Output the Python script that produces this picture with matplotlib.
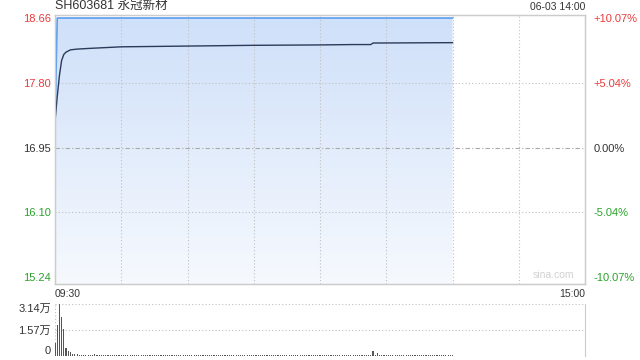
import numpy as np
import matplotlib
matplotlib.use("Agg")
import matplotlib.pyplot as plt
from matplotlib.colors import LinearSegmentedColormap

plt.rcParams['font.family'] = ['Liberation Sans', 'Noto Sans CJK SC', 'DejaVu Sans']

# trading minute from 09:30 (0) to 15:00 (240); data ends at 14:00 (180)
price_min = [0, 1, 180]
price_val = [17.29, 18.66, 18.66]

avg_min = [0, 1, 2, 3, 4, 5, 7, 10, 16, 30, 60, 90, 120, 135, 143, 144, 180]
avg_val = [17.29, 17.62, 17.90, 18.10, 18.18, 18.21, 18.24, 18.25, 18.26,
           18.28, 18.29, 18.30, 18.305, 18.31, 18.31, 18.33, 18.335]

# volume in 万 shares, one per minute
vol = ([0.78, 1.85, 3.14, 2.37, 1.62, 0.50, 0.30, 0.25, 0.15, 0.12,
        0.10, 0.08, 0.09, 0.07, 0.06, 0.08, 0.05, 0.06, 0.10, 0.05]
       + [0.05, 0.04, 0.06, 0.05, 0.04, 0.07, 0.05, 0.04, 0.05, 0.06] * 12
       + [0.05, 0.04, 0.06, 0.05, 0.30, 0.06, 0.18, 0.05, 0.04, 0.05]
       + [0.04, 0.05, 0.06, 0.04, 0.05, 0.05, 0.04, 0.06, 0.05, 0.04] * 3
       + [0.05])

prev_close = 16.95
left_ticks = [18.66, 17.80, 16.95, 16.10, 15.24]
left_labels = ["18.66", "17.80", "16.95", "16.10", "15.24"]
right_labels = ["+10.07%", "+5.04%", "0.00%", "-5.04%", "-10.07%"]
vol_ticks = [3.14, 1.57, 0]
vol_labels = ["3.14万", "1.57万", "0"]

RED = "#ec3a3a"; GREEN = "#2aa32a"; INK = "#333333"; EDGE = "#cccccc"

fig = plt.figure(figsize=(6.4, 3.6), dpi=100)
ax = fig.add_axes([55/640, 1-284/360, 530/640, 269/360])
axv = fig.add_axes([55/640, 1-356/360, 530/640, 52/360])

# ---- price panel ----
ylo, yhi = 15.15, 18.70
ax.set_xlim(0, 240); ax.set_ylim(ylo, yhi)
for m in range(30, 240, 30):
    ax.axvline(m, color="#c0c0c0", lw=0.8, ls=(0, (1, 2)), zorder=3)
for t in (17.80, 16.10):
    ax.axhline(t, color="#c0c0c0", lw=0.8, ls=(0, (1, 2)), zorder=3)
ax.axhline(prev_close, color="#aaaaaa", lw=0.8, ls=(0, (4, 2, 1, 2)), zorder=3)

cmap = LinearSegmentedColormap.from_list("fill", ["#f6f9fe", "#cfe0f9"])
grad = np.linspace(0, 1, 256).reshape(-1, 1)
im = ax.imshow(grad, cmap=cmap, aspect="auto", origin="lower",
               extent=[0, price_min[-1], ylo, 18.66], zorder=2)
poly = ax.fill_between(price_min, price_val, ylo, color="none", lw=0)
im.set_clip_path(poly.get_paths()[0], transform=ax.transData)

ax.plot(price_min, price_val, color="#5a9cf0", lw=1.2, zorder=4)
ax.plot(avg_min, avg_val, color="#2b3a58", lw=1.0, zorder=5)

ax.set_yticks(left_ticks)
ax.set_yticklabels(left_labels, fontsize=8)
for lab, t in zip(ax.get_yticklabels(), left_ticks):
    lab.set_color(RED if t > prev_close else (GREEN if t < prev_close else INK))
ax.tick_params(axis="y", length=0, pad=3)
ax.set_xticks([])
axr = ax.twinx()
axr.set_ylim(ylo, yhi)
axr.set_yticks(left_ticks)
axr.set_yticklabels(right_labels, fontsize=8)
for lab, t in zip(axr.get_yticklabels(), left_ticks):
    lab.set_color(RED if t > prev_close else (GREEN if t < prev_close else INK))
axr.tick_params(axis="y", length=0, pad=6)
for a in (ax, axr):
    for s in a.spines.values():
        s.set_color(EDGE); s.set_linewidth(0.9)

ax.text(0, 1.012, "SH603681 永冠新材", transform=ax.transAxes, fontsize=9,
        color=INK, ha="left", va="bottom")
ax.text(1, 1.012, "06-03 14:00", transform=ax.transAxes, fontsize=7.5,
        color=INK, ha="right", va="bottom")
ax.text(0, -0.02, "09:30", transform=ax.transAxes, fontsize=7.5,
        color=INK, ha="left", va="top")
ax.text(1, -0.02, "15:00", transform=ax.transAxes, fontsize=7.5,
        color=INK, ha="right", va="top")
ax.text(0.98, 0.015, "sina.com", transform=ax.transAxes, fontsize=7.5,
        color="#d0d0d0", ha="right", va="bottom")

# ---- volume panel ----
axv.bar(np.arange(len(vol)), vol, width=0.5, color="#555555", zorder=3)
axv.set_xlim(0, 240); axv.set_ylim(0, 3.14)
for t in vol_ticks:
    axv.axhline(t, color="#c0c0c0", lw=0.8, ls=(0, (1, 2)), zorder=1)
axv.set_xticks([])
axv.set_yticks(vol_ticks)
axv.set_yticklabels(vol_labels, fontsize=8, color=INK)
axv.tick_params(axis="y", length=0, pad=3)
vl = axv.get_yticklabels()
vl[0].set_va("top"); vl[2].set_va("bottom")
for k, s in axv.spines.items():
    s.set_visible(k == "right")
    s.set_color(EDGE)
axv.axvline(0, color="#c0c0c0", lw=0.8, ls=(0, (1, 2)))

fig.savefig("out.png", dpi=100)
